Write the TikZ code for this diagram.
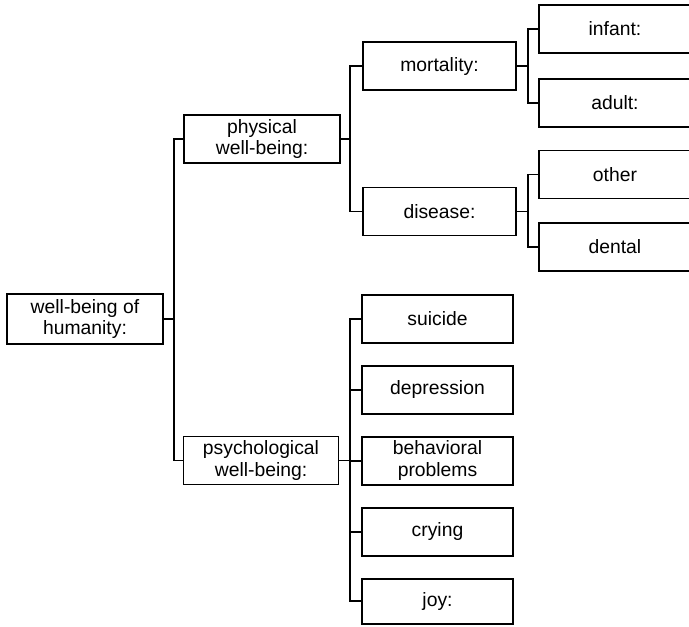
\documentclass[tikz,border=0pt]{standalone}
\usepackage{fontspec}
\setmainfont{Liberation Sans}
\usetikzlibrary{positioning}

\begin{document}
\begin{tikzpicture}[
  x=0.02cm, y=-0.02cm,
  node distance=0.42cm and 0.44cm,
  every node/.style={font=\fontsize{11}{12.5}\selectfont},
  box/.style={rectangle, draw, line width=1.1pt, minimum width=3.06cm, minimum height=0.96cm, align=center, inner sep=1pt},
  leaf/.style={box, minimum width=3.04cm, anchor=west},
  link/.style={line width=1.1pt},
]
\useasboundingbox (0,0) rectangle (689,626);
% Root and first level
\node[box, minimum width=3.12cm, minimum height=1cm] (root) at (85,319) {well-being of\\humanity:};
\node[box, minimum width=3.12cm] (phys) at (262,139) {physical\\well-being:};
\node[box, minimum width=3.1cm] (psych) at (261,460.5) {psychological\\well-being:};

% Physical branch
\node[box] (mort) at (439.5,66) {mortality:};
\node[box] (dis) at (439.5,211.5) {disease:};
\node[leaf] (infant) at (538,29) {infant:};
\node[leaf] (adult) at (538,103) {adult:};
\node[leaf] (other) at (538,174.5) {other};
\node[leaf] (dental) at (538,247) {dental};

% Psychological branch
\node[box, minimum width=3.02cm] (suicide) at (437.5,319) {suicide};
\node[box, minimum width=3.02cm, below=of suicide] (depr) {depression};
\node[box, minimum width=3.02cm, below=of depr] (behav) {behavioral\\problems};
\node[box, minimum width=3.02cm, below=of behav] (cry) {crying};
\node[box, minimum width=3.02cm, minimum height=0.9cm, below=of cry] (joy) {joy:};

% Links
\draw[link] (root.east) -- ++(10,0) |- (phys.west);
\draw[link] (root.east) -- ++(10,0) |- (psych.west);
\draw[link] (phys.east) -- ++(9,0) |- (mort.west);
\draw[link] (phys.east) -- ++(9,0) |- (dis.west);
\draw[link] (mort.east) -- ++(11,0) |- (infant.west);
\draw[link] (mort.east) -- ++(11,0) |- (adult.west);
\draw[link] (dis.east) -- ++(11,0) |- (other.west);
\draw[link] (dis.east) -- ++(11,0) |- (dental.west);
\foreach \c in {suicide,depr,behav,cry,joy}
  \draw[link] (psych.east) -- ++(11,0) |- (\c.west);
\end{tikzpicture}
\end{document}
